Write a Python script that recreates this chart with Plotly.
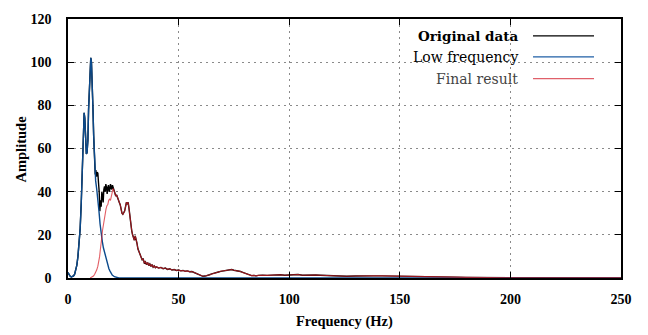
import plotly.graph_objects as go

# ---------------- data ----------------
f_low = [0, 0.5, 1, 1.5, 2, 2.5, 3, 3.5, 4, 4.5, 5, 5.5, 6, 6.3, 6.6, 7, 7.3, 7.6, 8, 8.3,
         8.6, 9, 9.3, 9.6, 10, 10.3, 10.6, 11, 11.3, 11.6, 12, 12.5, 13, 13.5, 14, 14.5,
         15, 15.5, 16, 16.5, 17, 17.5, 18, 18.5, 19, 19.5, 20, 21, 22, 23, 25, 250]
a_low = [2.5, 1.5, 0.8, 0.5, 0.6, 1.0, 1.8, 3.5, 6, 10, 15, 23, 35, 47, 60, 72, 76.5, 74, 64, 57.5,
         58, 64, 78, 88, 98, 102, 100, 90, 78, 66, 52, 45, 41, 37, 31, 25,
         20, 17, 14, 12, 9.5, 7.5, 5.8, 4.3, 3.2, 2.2, 1.4, 0.6, 0.2, 0.05, 0, 0]

f_orig_head = [0, 0.5, 1, 1.5, 2, 2.5, 3, 3.5, 4, 4.5, 5, 5.5, 6, 6.3, 6.6, 7, 7.3, 7.6, 8, 8.3,
               8.6, 9, 9.3, 9.6, 10, 10.3, 10.6, 11, 11.3, 11.6, 12, 12.3, 12.6, 12.9, 13.2,
               13.5, 13.8, 14.1, 14.4, 14.7, 15, 15.3, 15.6, 15.9, 16.2, 16.5, 16.8, 17.1,
               17.4, 17.7, 18, 18.3, 18.6, 18.9, 19.2, 19.5, 19.8, 20.1, 20.4, 20.7, 21]
a_orig_head = [2.5, 1.5, 0.8, 0.5, 0.6, 1.0, 1.8, 3.5, 6, 10, 15, 23, 35, 47, 60, 72, 76.5, 74, 64, 57.5,
               58, 64, 78, 88, 98, 102, 100, 90, 78, 66, 52, 48, 50, 47, 49,
               48.5, 44, 40, 31, 36, 33, 40, 38, 35, 41, 42.5, 40, 43.5,
               42, 39, 42, 43, 40, 41, 43.5, 42, 41, 43, 42, 41.5, 40]

f_final = [10, 10.5, 11, 11.5, 12, 12.5, 13, 13.5, 14, 14.3, 14.6, 15, 15.3, 15.6, 16, 16.4, 16.8,
           17.2, 17.6, 18, 18.4, 18.8, 19.2, 19.6, 20, 20.4, 20.8, 21.2, 21.6, 22, 22.4, 22.8,
           23.2, 23.6, 24, 24.4, 24.8, 25.2, 25.6, 26, 26.4, 26.8, 27.2, 27.6, 28, 28.4, 28.8,
           29.2, 29.6, 30, 30.4, 30.8, 31.2, 31.6, 32, 32.5, 33, 33.5, 34, 34.5, 35, 35.5, 36,
           36.5, 37, 37.5, 38, 38.5, 39, 39.5, 40, 41, 42, 43, 44, 45, 46, 47, 48, 49, 50, 51,
           52, 53, 54, 55, 56, 57, 58, 59, 60, 61, 62, 63, 64, 65, 66, 67, 68, 69, 70, 71, 72,
           73, 74, 75, 76, 77, 78, 79, 80, 81, 82, 83, 84, 85, 86, 87, 88, 90, 92, 94, 96, 98,
           100, 102, 104, 106, 108, 110, 112, 114, 116, 118, 120, 123, 126, 130, 134, 138, 142,
           146, 150, 155, 160, 165, 170, 175, 180, 185, 190, 200, 210, 220, 235, 250]
a_final = [0, 0.2, 0.5, 0.9, 1.6, 2.6, 3.8, 5.5, 8, 10, 13, 15.5, 19, 22, 25, 28, 30.5,
           32, 33.5, 34, 36, 36.5, 36, 38, 39.5, 41.5, 40.5, 39.5, 38, 38.5, 37, 36.5,
           35, 34, 31.5, 30, 29.5, 30, 31, 33, 35, 34.5, 35, 32, 28, 25, 22,
           20, 18, 17.5, 19.5, 18, 16, 13.5, 12.5, 11, 10, 8.5, 8.8, 7, 7.5, 6.2, 7.2,
           5.8, 6.5, 5.4, 6.2, 5, 5.6, 4.8, 5.2, 4.6, 4.9, 4.3, 4.6, 4.0, 4.3, 3.7, 3.9, 3.5, 3.7, 3.3,
           3.5, 3.1, 3.3, 2.9, 3.0, 2.5, 2.2, 1.6, 1.1, 0.8, 0.9, 1.1, 1.5, 1.9, 2.3, 2.5, 2.8, 3.1, 3.2, 3.4, 3.5,
           3.6, 3.9, 3.6, 3.5, 3.2, 3.0, 2.6, 2.2, 1.7, 1.4, 1.1, 1.2, 1.0, 1.2, 1.1, 1.3, 1.2, 1.4, 1.3, 1.5, 1.3,
           1.5, 1.4, 1.6, 1.3, 1.4, 1.2, 1.4, 1.3, 1.2, 1.3, 1.0, 0.9, 0.8, 0.9, 0.8, 1.0, 1.0,
           0.9, 0.7, 0.6, 0.5, 0.5, 0.4, 0.4, 0.3, 0.2, 0.2, 0.15, 0.1, 0.1, 0.05, 0.05]

# original data = measured head + tail coinciding with the final result
f_orig = f_orig_head + [f for f in f_final if f > f_orig_head[-1]]
a_orig = a_orig_head + [a for f, a in zip(f_final, a_final) if f > f_orig_head[-1]]

legend_labels = ["Original data", "Low frequency", "Final result"]
x_ticks = [0, 50, 100, 150, 200, 250]
y_ticks = [0, 20, 40, 60, 80, 100, 120]

FONT = "'Liberation Serif', 'DejaVu Serif', serif"
KEYFONT = "'DejaVu Serif', 'Liberation Serif', serif"
C_ORIG = "#000000"
C_LOW = "#0b4a8c"
C_FINAL = "rgba(215,30,40,0.72)"

fig = go.Figure()
fig.add_trace(go.Scatter(x=f_orig, y=a_orig, mode="lines", line=dict(color=C_ORIG, width=1.4),
                         showlegend=False))
fig.add_trace(go.Scatter(x=f_low, y=a_low, mode="lines", line=dict(color=C_LOW, width=1.4),
                         showlegend=False))
fig.add_trace(go.Scatter(x=f_final, y=a_final, mode="lines", line=dict(color=C_FINAL, width=1.1),
                         showlegend=False))

axis_common = dict(
    showline=True, linecolor="black", linewidth=1.5, mirror="ticks",
    ticks="inside", ticklen=6, tickwidth=1.2, tickcolor="black",
    showgrid=True, gridcolor="#8a8a8a", gridwidth=1, griddash="2px,4px",
    zeroline=False,
    tickfont=dict(family=FONT, size=14, color="black", weight="bold"),
)

fig.update_layout(
    width=648, height=335,
    margin=dict(l=68, r=27, t=17, b=57),
    paper_bgcolor="white", plot_bgcolor="white",
    font=dict(family=FONT),
    xaxis=dict(range=[0, 250], tickvals=x_ticks, ticklabelstandoff=7, **axis_common),
    yaxis=dict(range=[0, 120], tickvals=y_ticks, ticklabelstandoff=12, **axis_common),
    showlegend=False,
)

# axis titles
fig.add_annotation(text="<b>Frequency (Hz)</b>", xref="paper", yref="paper", x=0.5, y=-0.168,
                   xanchor="center", yanchor="middle", showarrow=False,
                   font=dict(family=FONT, size=14.5, color="black"))
fig.add_annotation(text="<b>Amplitude</b>", xref="paper", yref="paper", x=-0.085, y=0.5,
                   xanchor="center", yanchor="middle", textangle=-90, showarrow=False,
                   font=dict(family=FONT, size=14.5, color="black"))

# key (text right-aligned, sample line to the right)
key_y = [0.935, 0.854, 0.770]
key_colors = ["#000000", "#1f5fa6", "#e0606a"]
key_text = ["<b>%s</b>" % legend_labels[0], legend_labels[1], legend_labels[2]]
key_font_colors = ["black", "black", "#444444"]
key_sizes = [13.5, 14, 14]
for lbl, ky, kc, fc, ks in zip(key_text, key_y, key_colors, key_font_colors, key_sizes):
    fig.add_annotation(text=lbl, xref="paper", yref="paper", x=0.8174, y=ky,
                       xanchor="right", yanchor="middle", showarrow=False,
                       font=dict(family=KEYFONT, size=ks, color=fc))
    fig.add_shape(type="line", xref="paper", yref="paper", x0=0.8409, x1=0.9512, y0=ky, y1=ky,
                  line=dict(color=kc, width=1.3))

fig.write_html("out.html")
